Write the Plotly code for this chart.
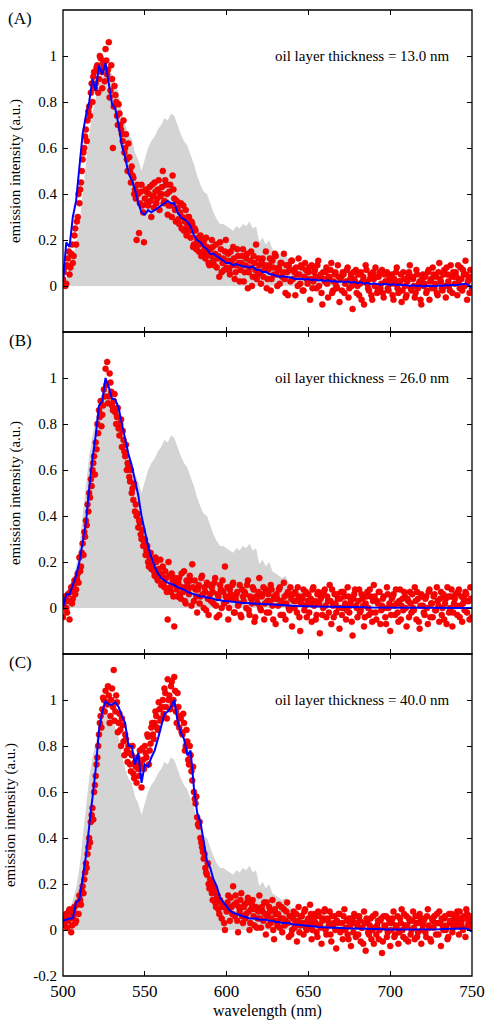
import plotly.graph_objects as go
from plotly.subplots import make_subplots

# reference spectrum (grey area), every 2 nm from 500 to 750
wl_ref = list(range(500, 751, 2))
ref_spectrum = [
    0.0, 0.03, 0.08, 0.13, 0.18, 0.27, 0.4, 0.55, 0.66, 0.75,
    0.82, 0.88, 0.92, 0.95, 0.94, 0.92, 0.88, 0.84, 0.76, 0.7,
    0.66, 0.64, 0.58, 0.55, 0.5, 0.55, 0.6, 0.63, 0.65, 0.68,
    0.7, 0.73, 0.72, 0.75, 0.74, 0.7, 0.66, 0.63, 0.61, 0.57,
    0.53, 0.48, 0.44, 0.41, 0.4, 0.36, 0.32, 0.29, 0.27, 0.27,
    0.26, 0.25, 0.24, 0.26, 0.25, 0.27, 0.26, 0.28, 0.25, 0.26,
    0.19, 0.21, 0.18, 0.2, 0.16, 0.15, 0.14, 0.13, 0.14, 0.11,
    0.09, 0.08, 0.07, 0.07, 0.06, 0.05, 0.05, 0.04, 0.04, 0.03,
    0.03, 0.03, 0.03, 0.025, 0.025, 0.02, 0.02, 0.02, 0.02, 0.02,
    0.02, 0.015, 0.015, 0.015, 0.015, 0.01, 0.01, 0.01, 0.01, 0.01,
    0.01, 0.01, 0.01, 0.01, 0.01, 0.01, 0.01, 0.01, 0.01, 0.01,
    0.01, 0.01, 0.01, 0.01, 0.01, 0.01, 0.01, 0.01, 0.01, 0.01,
    0.005, 0.005, 0.005, 0.005, 0.005, 0.005,
]

# fitted curves (blue), every 2 nm
wl_fit = list(range(500, 751, 2))
fit_A = [
    0.02, 0.19, 0.17, 0.3, 0.37, 0.52, 0.66, 0.74, 0.8, 0.9,
    0.85, 0.96, 0.92, 0.97, 0.87, 0.79, 0.77, 0.7, 0.61, 0.56,
    0.49, 0.46, 0.42, 0.36, 0.32, 0.31, 0.33, 0.32, 0.33, 0.34,
    0.35, 0.36, 0.37, 0.36, 0.36, 0.32, 0.3, 0.29, 0.28, 0.26,
    0.22, 0.2, 0.19, 0.17, 0.16, 0.14, 0.14, 0.13, 0.12, 0.11,
    0.1, 0.1, 0.09, 0.095, 0.09, 0.085, 0.085, 0.08, 0.085, 0.07,
    0.072, 0.06, 0.062, 0.052, 0.05, 0.046, 0.04, 0.042, 0.04, 0.035,
    0.036, 0.03, 0.032, 0.03, 0.028, 0.03, 0.026, 0.028, 0.024, 0.026,
    0.022, 0.025, 0.02, 0.022, 0.018, 0.02, 0.016, 0.02, 0.014, 0.018,
    0.012, 0.016, 0.01, 0.014, 0.008, 0.012, 0.01, 0.006, 0.01, 0.008,
    0.006, 0.008, 0.004, 0.006, 0.002, 0.004, 0.0, 0.003, 0.0, 0.002,
    -0.002, 0.001, 0.0, 0.002, -0.001, 0.003, 0.0, 0.004, 0.002, 0.005,
    0.003, 0.006, 0.008, 0.01, 0.004, -0.01,
]
fit_B = [
    0.0, 0.06, 0.06, 0.1, 0.14, 0.2, 0.28, 0.37, 0.52, 0.65,
    0.75, 0.88, 0.9, 1.0, 0.96, 0.91, 0.905, 0.87, 0.8, 0.73,
    0.67, 0.62, 0.56, 0.49, 0.4, 0.33, 0.27, 0.22, 0.18, 0.15,
    0.13, 0.12, 0.11, 0.105, 0.1, 0.09, 0.085, 0.08, 0.07, 0.065,
    0.06, 0.055, 0.05, 0.05, 0.045, 0.045, 0.04, 0.035, 0.035, 0.03,
    0.03, 0.028, 0.026, 0.025, 0.024, 0.022, 0.022, 0.02, 0.02, 0.019,
    0.018, 0.018, 0.016, 0.016, 0.015, 0.014, 0.014, 0.012, 0.012, 0.011,
    0.01, 0.01, 0.009, 0.009, 0.008, 0.008, 0.007, 0.007, 0.006, 0.006,
    0.006, 0.005, 0.005, 0.005, 0.004, 0.004, 0.004, 0.004, 0.003, 0.003,
    0.003, 0.003, 0.003, 0.002, 0.002, 0.002, 0.002, 0.002, 0.002, 0.002,
    0.002, 0.001, 0.001, 0.001, 0.001, 0.001, 0.001, 0.001, 0.001, 0.001,
    0.001, 0.0, 0.0, 0.0, 0.0, 0.0, 0.0, 0.0, 0.0, 0.0,
    0.0, 0.0, 0.0, 0.0, 0.0, 0.0,
]
fit_C = [
    0.04, 0.045, 0.05, 0.05, 0.12, 0.13, 0.23, 0.32, 0.45, 0.58,
    0.7, 0.87, 0.95, 0.995, 0.98, 0.98, 0.99, 0.97, 0.93, 0.9,
    0.8, 0.8, 0.72, 0.77, 0.64, 0.72, 0.71, 0.75, 0.78, 0.83,
    0.88, 0.94, 0.95, 0.97, 1.0, 0.91, 0.86, 0.83, 0.76, 0.78,
    0.62, 0.51, 0.47, 0.39, 0.3, 0.27, 0.22, 0.19, 0.14, 0.12,
    0.1, 0.085, 0.075, 0.07, 0.065, 0.06, 0.055, 0.05, 0.05, 0.05,
    0.045, 0.045, 0.045, 0.04, 0.04, 0.035, 0.035, 0.03, 0.03, 0.03,
    0.025, 0.024, 0.022, 0.02, 0.019, 0.017, 0.016, 0.015, 0.013, 0.012,
    0.011, 0.01, 0.009, 0.008, 0.008, 0.007, 0.007, 0.007, 0.006, 0.006,
    0.006, 0.006, 0.006, 0.006, 0.006, 0.006, 0.005, 0.004, 0.003, 0.002,
    0.002, 0.001, 0.001, 0.0, 0.0, 0.0, 0.0, 0.0, 0.0, 0.001,
    0.001, 0.002, 0.002, 0.003, 0.003, 0.003, 0.004, 0.004, 0.005, 0.005,
    0.006, 0.007, 0.007, 0.007, 0.003, -0.007,
]

# measured points (red), at whole nm 500..750
wl_data = list(range(500, 751))
data_A = [
    0.03, 0.08, 0.01, 0.12, 0.05, 0.14, 0.1, 0.22, 0.18, 0.3,
    0.36, 0.45, 0.55, 0.6, 0.68, 0.72, 0.78, 0.84, 0.8, 0.93,
    0.88, 0.96, 0.9, 0.99, 0.86, 0.95, 1.03, 0.92, 1.06, 0.85,
    0.9, 0.78, 0.83, 0.74, 0.79, 0.7, 0.66, 0.72, 0.6, 0.55,
    0.62, 0.5, 0.52, 0.47, 0.42, 0.2, 0.4, 0.36, 0.44, 0.32,
    0.38, 0.41, 0.35, 0.43, 0.3, 0.39, 0.45, 0.36, 0.42, 0.33,
    0.4, 0.5, 0.37, 0.44, 0.31, 0.41, 0.35, 0.48, 0.38, 0.28,
    0.34, 0.27, 0.36, 0.3, 0.24, 0.33, 0.26, 0.3, 0.21, 0.27,
    0.18, 0.24, 0.2, 0.15, 0.22, 0.14, 0.19, 0.12, 0.17, 0.1,
    0.16, 0.2, 0.11, 0.14, 0.08, 0.13, 0.19, 0.06, 0.12, 0.15,
    0.08, 0.14, 0.05, 0.11, 0.17, 0.03, 0.09, 0.13, 0.02, 0.1,
    0.16, 0.06, 0.12, -0.01, 0.08, 0.15, 0.04, 0.1, 0.18, 0.05,
    0.09, 0.01, 0.12, 0.07, 0.15, 0.03, 0.09, -0.02, 0.11, 0.05,
    0.13, 0.0, 0.08, 0.1, 0.04, 0.14, -0.03, 0.06, 0.09, 0.02,
    0.11, 0.07, -0.04, 0.05, 0.12, 0.01, 0.08, -0.02, 0.1, 0.03,
    0.06, -0.06, 0.09, 0.02, 0.07, -0.01, 0.11, 0.04, -0.03, 0.06,
    0.02, 0.08, -0.05, 0.03, 0.1, -0.02, 0.05, 0.0, 0.09, -0.07,
    0.04, 0.06, -0.03, 0.02, 0.08, -0.01, 0.05, -0.1, 0.03, 0.07,
    0.0, -0.04, 0.06, 0.02, -0.08, 0.09, 0.01, -0.02, 0.05, -0.06,
    0.03, 0.08, -0.03, 0.04, -0.01, 0.07, -0.05, 0.02, 0.06, -0.02,
    0.03, 0.05, -0.06, 0.01, 0.08, -0.03, 0.02, -0.07, 0.06, 0.0,
    -0.04, 0.04, 0.09, -0.02, 0.03, -0.05, 0.07, -0.01, 0.02, -0.08,
    0.05, 0.01, -0.03, 0.06, -0.06, 0.03, 0.08, -0.01, 0.04, -0.04,
    0.1, 0.02, -0.02, 0.07, -0.05, 0.05, 0.0, 0.09, -0.03, 0.04,
    0.06, -0.04, 0.02, 0.08, -0.02, 0.05, 0.11, -0.06, 0.03, 0.07,
    -0.01,
]
data_B = [
    -0.04, 0.03, 0.0, 0.06, -0.05, 0.09, 0.04, 0.12, 0.08, 0.15,
    0.22, 0.18, 0.28, 0.33, 0.38, 0.45, 0.5, 0.56, 0.6, 0.66,
    0.72, 0.8, 0.86, 0.9, 0.84, 0.95, 1.04, 1.07, 0.92, 0.98,
    0.88, 0.9, 0.85, 0.83, 0.78, 0.8, 0.7, 0.73, 0.66, 0.6,
    0.62, 0.55, 0.5, 0.47, 0.42, 0.4, 0.35, 0.37, 0.3, 0.27,
    0.3, 0.25, 0.2, 0.22, 0.17, 0.19, 0.14, 0.2, 0.12, 0.15,
    0.1, 0.18, 0.09, 0.13, -0.05, 0.14, 0.07, 0.12, -0.08, 0.1,
    0.05, 0.13, 0.04, 0.09, 0.16, 0.02, 0.1, 0.06, 0.12, 0.19,
    0.03, 0.08, -0.02, 0.1, 0.05, 0.14, 0.0, 0.07, 0.11, -0.03,
    0.06, 0.09, 0.02, 0.13, -0.04, 0.05, 0.1, 0.0, 0.07, 0.18,
    0.03, -0.05, 0.08, 0.04, 0.11, -0.02, 0.06, 0.01, 0.1, -0.04,
    0.05, 0.07, 0.0, 0.12, -0.03, 0.04, 0.09, -0.06, 0.05, 0.02,
    0.13, -0.01, 0.06, -0.05, 0.08, 0.03, -0.02, 0.1, 0.01, 0.05,
    -0.07, 0.04, 0.08, -0.03, 0.02, 0.11, -0.05, 0.06, 0.0, 0.09,
    -0.08, 0.03, 0.07, -0.02, 0.05, -0.1, 0.04, 0.08, 0.01, -0.04,
    0.06, 0.02, -0.06, 0.09, 0.03, -0.03, 0.07, -0.11, 0.05, 0.0,
    0.08, -0.04, 0.03, 0.1, -0.07, 0.01, 0.06, -0.02, 0.04, -0.09,
    0.07, 0.0, 0.05, -0.05, 0.09, -0.02, 0.03, -0.12, 0.06, 0.01,
    -0.04, 0.08, -0.01, 0.04, -0.08, 0.02, 0.07, -0.03, 0.05, -0.06,
    0.1, -0.02, 0.03, 0.07, -0.07, 0.01, 0.05, -0.04, 0.09, 0.0,
    -0.1, 0.04, 0.06, -0.03, 0.02, -0.06, 0.08, 0.01, -0.01, 0.05,
    -0.08, 0.03, 0.07, -0.02, 0.0, 0.09, -0.05, 0.04, -0.09, 0.06,
    0.01, -0.03, 0.05, -0.07, 0.08, 0.02, -0.04, 0.06, -0.01, 0.03,
    -0.06, 0.07, 0.0, -0.05, 0.04, 0.09, -0.02, 0.05, -0.08, 0.02,
    0.06, -0.03, 0.08, 0.01, -0.06, 0.04, 0.07, -0.02, 0.03, 0.09,
    -0.04,
]
data_C = [
    0.05, 0.02, 0.07, 0.04, 0.09, -0.01, 0.06, 0.1, 0.04, 0.12,
    0.15, 0.11, 0.19, 0.22, 0.29, 0.33, 0.4, 0.47, 0.53, 0.6,
    0.67, 0.75, 0.85, 0.93, 0.96, 1.0, 1.04, 0.98, 1.02, 0.93,
    1.05, 1.13, 0.95, 0.99, 0.9, 0.87, 0.92, 0.82, 0.85, 0.78,
    0.8, 0.72, 0.76, 0.68, 0.73, 0.64, 0.7, 0.78, 0.62, 0.74,
    0.8, 0.75, 0.84, 0.78, 0.88, 0.85, 0.9, 0.93, 0.87, 0.96,
    0.92, 1.0, 1.05, 0.97, 1.09, 1.02, 1.06, 0.98, 1.1, 0.95,
    1.03, 0.88, 0.92, 0.85, 0.9, 0.8, 0.82, 0.72, 0.76, 0.65,
    0.6, 0.55, 0.49, 0.45, 0.4, 0.36, 0.31, 0.27, 0.24, 0.2,
    0.22, 0.16, 0.19, 0.12, 0.14, 0.09, 0.13, 0.05, 0.1, 0.0,
    0.08, 0.15, 0.04, 0.1, 0.19, 0.06, 0.12, -0.01, 0.08, 0.16,
    0.03, 0.11, 0.07, 0.14, 0.0, 0.09, 0.13, 0.02, 0.1, 0.05,
    0.15, 0.01, 0.08, 0.12, -0.02, 0.06, 0.1, 0.03, 0.13, -0.04,
    0.07, 0.02, 0.11, 0.05, -0.01, 0.09, 0.04, 0.12, -0.03, 0.06,
    0.0, 0.08, 0.03, -0.05, 0.1, 0.02, 0.06, -0.02, 0.09, 0.0,
    0.05, 0.11, -0.04, 0.03, 0.07, -0.01, 0.08, 0.02, -0.06, 0.05,
    0.09, -0.02, 0.04, 0.08, -0.05, 0.02, 0.06, -0.08, 0.03, 0.07,
    0.0, -0.04, 0.09, 0.01, -0.02, 0.05, -0.07, 0.04, 0.07, -0.03,
    0.02, 0.06, -0.05, 0.01, 0.08, -0.09, 0.03, -0.02, 0.05, 0.0,
    -0.06, 0.07, 0.02, -0.04, 0.04, -0.1, 0.06, 0.01, -0.03, 0.05,
    -0.07, 0.03, 0.08, -0.02, 0.01, -0.06, 0.05, 0.09, -0.03, 0.02,
    0.06, -0.05, 0.04, 0.0, 0.08, -0.04, 0.03, -0.01, 0.07, -0.06,
    0.02, 0.05, -0.03, 0.09, 0.01, -0.05, 0.04, 0.06, -0.02, 0.03,
    0.08, -0.07, 0.02, 0.05, 0.0, -0.04, 0.07, 0.03, -0.01, 0.06,
    0.04, 0.08, -0.02, 0.05, 0.01, 0.06, -0.03, 0.07, 0.03, 0.05,
    0.02,
]

# measured points (red), at half nm 500.5..749.5
wl_half = [500.5 + k for k in range(250)]
half_A = [
    0.06, 0.0, 0.09, 0.15, 0.08, 0.18, 0.13, 0.25, 0.28, 0.4,
    0.42, 0.5, 0.58, 0.65, 0.63, 0.76, 0.74, 0.88, 0.91, 0.86,
    0.95, 0.84, 1.0, 0.93, 0.97, 0.89, 0.98, 0.94, 0.82, 0.96,
    0.6, 0.87, 0.8, 0.7, 0.75, 0.68, 0.63, 0.58, 0.66, 0.5,
    0.56, 0.45, 0.48, 0.4, 0.38, 0.44, 0.23, 0.41, 0.35, 0.19,
    0.42, 0.36, 0.4, 0.37, 0.44, 0.34, 0.41, 0.38, 0.46, 0.39,
    0.43, 0.36, 0.46, 0.4, 0.35, 0.44, 0.3, 0.42, 0.33, 0.37,
    0.29, 0.32, 0.25, 0.35, 0.28, 0.22, 0.3, 0.24, 0.28, 0.17,
    0.25, 0.16, 0.21, 0.18, 0.13, 0.2, 0.16, 0.21, 0.14, 0.09,
    0.13, 0.17, 0.09, 0.18, 0.12, 0.04, 0.16, 0.1, 0.07, 0.2,
    0.11, 0.07, 0.15, 0.09, 0.12, 0.06, 0.16, 0.1, 0.07, 0.13,
    0.02, 0.09, 0.14, 0.06, 0.11, 0.0, 0.13, 0.07, 0.03, 0.12,
    0.06, 0.1, 0.04, 0.09, -0.01, 0.07, 0.12, 0.03, 0.08, 0.14,
    0.05, 0.07, 0.01, 0.1, 0.06, 0.03, 0.09, -0.04, 0.07, 0.11,
    0.03, 0.06, 0.08, 0.0, 0.05, 0.09, -0.02, 0.04, 0.07, 0.01,
    0.08, 0.03, -0.01, 0.06, 0.04, 0.09, 0.0, 0.05, -0.08, 0.03,
    0.06, 0.01, 0.04, 0.07, -0.03, 0.02, 0.06, -0.01, 0.04, 0.03,
    -0.02, 0.05, 0.01, 0.07, -0.05, 0.03, 0.0, 0.06, 0.02, -0.03,
    0.05, 0.01, -0.06, 0.04, 0.02, 0.07, -0.01, 0.03, -0.04, 0.06,
    0.0, 0.04, -0.02, 0.06, 0.01, -0.03, 0.05, 0.02, -0.01, 0.04,
    0.01, -0.04, 0.03, 0.06, -0.01, 0.02, 0.05, -0.02, 0.03, -0.05,
    0.02, 0.06, -0.01, 0.04, 0.0, -0.03, 0.05, 0.01, -0.06, 0.03,
    0.0, 0.04, -0.02, 0.07, 0.02, -0.01, 0.05, 0.01, -0.03, 0.06,
    0.03, -0.01, 0.05, 0.0, 0.08, 0.02, -0.02, 0.04, 0.06, 0.01,
    0.04, 0.09, -0.01, 0.03, 0.07, 0.0, 0.05, 0.02, -0.03, 0.04,
]
half_B = [
    0.01, 0.05, -0.02, 0.03, 0.07, 0.02, 0.1, 0.06, 0.13, 0.11,
    0.16, 0.24, 0.23, 0.31, 0.36, 0.42, 0.48, 0.53, 0.63, 0.58,
    0.69, 0.76, 0.83, 0.79, 0.88, 0.92, 0.97, 0.89, 1.02, 0.94,
    0.86, 0.93, 0.8, 0.87, 0.75, 0.82, 0.77, 0.68, 0.71, 0.63,
    0.57, 0.6, 0.52, 0.54, 0.45, 0.41, 0.38, 0.32, 0.34, 0.29,
    0.23, 0.27, 0.18, 0.24, 0.2, 0.16, 0.22, 0.13, 0.17, 0.21,
    0.14, 0.11, 0.16, 0.07, 0.2, 0.09, 0.15, 0.05, 0.13, 0.08,
    0.11, 0.06, 0.15, 0.07, 0.03, 0.12, 0.08, 0.14, 0.01, 0.09,
    0.12, 0.05, 0.08, 0.02, 0.13, 0.06, 0.09, -0.01, 0.04, 0.1,
    0.03, 0.07, 0.11, 0.01, 0.06, -0.03, 0.08, 0.12, 0.02, 0.05,
    0.09, 0.0, 0.06, 0.1, -0.02, 0.04, 0.07, 0.02, -0.03, 0.08,
    0.03, 0.06, 0.1, -0.01, 0.05, 0.02, 0.08, -0.04, 0.04, 0.07,
    0.0, 0.05, 0.09, 0.02, -0.02, 0.06, 0.03, 0.08, -0.05, 0.04,
    0.06, 0.01, 0.09, 0.03, -0.03, 0.05, 0.02, 0.07, -0.01, 0.04,
    0.06, 0.0, 0.03, 0.09, -0.04, 0.02, 0.05, -0.01, 0.07, 0.03,
    -0.02, 0.04, 0.08, 0.01, -0.05, 0.06, 0.02, 0.04, -0.03, 0.07,
    0.01, 0.05, -0.02, 0.03, 0.08, -0.04, 0.02, 0.06, 0.0, 0.04,
    -0.03, 0.07, 0.02, -0.01, 0.05, 0.01, -0.06, 0.04, 0.08, 0.0,
    0.03, -0.02, 0.06, 0.01, -0.04, 0.05, 0.0, 0.08, -0.02, 0.03,
    0.05, -0.05, 0.02, 0.07, -0.01, 0.04, 0.0, -0.07, 0.06, 0.02,
    -0.03, 0.05, 0.01, 0.08, -0.02, 0.03, -0.05, 0.04, 0.07, 0.0,
    0.04, -0.04, 0.02, 0.06, -0.01, 0.03, 0.07, -0.06, 0.01, 0.05,
    -0.02, 0.04, 0.0, 0.07, -0.04, 0.02, 0.05, -0.01, 0.09, 0.01,
    0.04, -0.03, 0.06, 0.02, -0.07, 0.05, 0.0, 0.08, -0.02, 0.04,
    0.01, 0.07, -0.04, 0.05, 0.02, -0.01, 0.06, 0.03, -0.05, 0.04,
]
half_C = [
    0.03, 0.06, 0.01, 0.08, 0.05, 0.02, 0.08, 0.03, 0.11, 0.07,
    0.13, 0.17, 0.16, 0.25, 0.27, 0.36, 0.38, 0.5, 0.48, 0.63,
    0.72, 0.8, 0.9, 0.88, 1.01, 0.95, 0.99, 1.06, 0.9, 1.0,
    0.97, 0.91, 1.02, 0.86, 0.94, 0.8, 0.89, 0.76, 0.83, 0.73,
    0.77, 0.69, 0.8, 0.66, 0.71, 0.75, 0.67, 0.72, 0.79, 0.7,
    0.77, 0.85, 0.72, 0.81, 0.9, 0.83, 0.95, 0.88, 0.99, 0.91,
    0.97, 0.94, 1.03, 0.92, 1.0, 0.96, 1.08, 1.0, 1.04, 0.9,
    0.97, 0.93, 0.86, 0.94, 0.78, 0.87, 0.74, 0.8, 0.69, 0.71,
    0.57, 0.58, 0.46, 0.47, 0.38, 0.34, 0.33, 0.25, 0.29, 0.18,
    0.2, 0.13, 0.17, 0.1, 0.15, 0.07, 0.12, 0.11, 0.03, 0.1,
    0.12, 0.09, 0.14, 0.07, 0.11, 0.15, 0.04, 0.1, 0.13, 0.06,
    0.1, 0.05, 0.12, 0.08, 0.03, 0.11, 0.06, 0.09, 0.01, 0.08,
    0.05, 0.1, 0.04, 0.07, 0.12, 0.02, 0.08, 0.05, 0.0, 0.09,
    0.04, 0.07, 0.01, 0.1, 0.05, 0.02, 0.08, 0.03, 0.06, -0.02,
    0.05, 0.01, 0.07, 0.04, -0.01, 0.06, 0.03, 0.08, 0.01, 0.04,
    0.02, 0.07, 0.0, 0.05, 0.03, -0.03, 0.06, 0.01, 0.04, 0.08,
    0.0, 0.05, 0.02, -0.02, 0.06, 0.03, 0.0, 0.04, 0.07, -0.01,
    0.03, 0.06, 0.0, 0.04, -0.04, 0.02, 0.05, -0.01, 0.03, 0.06,
    -0.02, 0.04, 0.01, -0.06, 0.03, 0.05, -0.01, 0.02, -0.04, 0.06,
    0.01, -0.02, 0.04, 0.0, 0.05, -0.05, 0.02, 0.06, -0.01, 0.03,
    0.0, 0.05, -0.03, 0.02, 0.06, -0.01, 0.03, 0.0, 0.07, -0.04,
    0.02, 0.05, -0.02, 0.04, 0.01, 0.06, -0.03, 0.03, 0.05, 0.0,
    0.04, -0.01, 0.06, 0.02, -0.04, 0.05, 0.01, 0.03, 0.07, -0.02,
    0.03, 0.05, 0.0, 0.06, 0.02, -0.03, 0.04, 0.07, 0.01, 0.03,
    0.06, 0.02, 0.08, 0.03, 0.0, 0.05, 0.09, 0.02, 0.06, 0.01,
]

panel_labels = ["(A)", "(B)", "(C)"]
thickness = ["13.0", "26.0", "40.0"]
y_ticks = [0, 0.2, 0.4, 0.6, 0.8, 1]
y_ticks_C = [-0.2, 0, 0.2, 0.4, 0.6, 0.8, 1]
x_ticks = [500, 550, 600, 650, 700, 750]

FONT = "Liberation Serif"
RED = "#ff0000"

fig = make_subplots(rows=3, cols=1, shared_xaxes=True, vertical_spacing=0)

panels = [(data_A, half_A, fit_A), (data_B, half_B, fit_B), (data_C, half_C, fit_C)]
for i, (pts, pts_half, fit) in enumerate(panels):
    row = i + 1
    fig.add_trace(go.Scatter(x=wl_ref, y=ref_spectrum, mode="lines", fill="tozeroy",
                             line=dict(width=0, color="#d4d4d4"), fillcolor="#d4d4d4"),
                  row=row, col=1)
    fig.add_trace(go.Scatter(x=wl_data + wl_half, y=pts + pts_half, mode="markers",
                             marker=dict(color=RED, size=6, line=dict(width=0.5, color="#d00000"))),
                  row=row, col=1)
    fig.add_trace(go.Scatter(x=wl_fit, y=fit, mode="lines", line=dict(color="#0000ff", width=2)),
                  row=row, col=1)

    sfx = "" if row == 1 else str(row)
    # frame of the panel
    fig.add_shape(type="rect", xref="x" + sfx + " domain", yref="y" + sfx + " domain",
                  x0=0, x1=1, y0=0, y1=1, line=dict(color="black", width=1.3), layer="above")
    fig.add_annotation(text=panel_labels[i], xref="x" + sfx + " domain", yref="y" + sfx + " domain",
                       x=-0.105, y=0.975, xanchor="center", yanchor="middle", showarrow=False,
                       font=dict(family=FONT, size=17, color="black"))
    fig.add_annotation(text="oil layer thickness = " + thickness[i] + " nm", xref="x" + sfx, yref="y" + sfx,
                       x=683, y=1.0, xanchor="center", yanchor="middle", showarrow=False,
                       font=dict(family=FONT, size=15, color="black"))

fig.update_xaxes(range=[500, 750], tickvals=x_ticks, ticks="inside", ticklen=5, tickwidth=1.2,
                 tickcolor="black", showline=False, mirror="ticks", automargin=False,
                 ticklabeloverflow="allow", ticklabelstandoff=3,
                 showgrid=False, zeroline=False, tickfont=dict(family=FONT, size=17, color="black"))
fig.update_xaxes(title_text="wavelength (nm)", title_font=dict(family=FONT, size=16, color="black"),
                 title_standoff=4, row=3, col=1)

fig.update_yaxes(range=[-0.2, 1.2], tickvals=y_ticks, ticktext=[str(v) for v in y_ticks],
                 ticks="inside", ticklen=5, tickwidth=1.2, tickcolor="black", showline=False,
                 mirror="ticks", showgrid=False, zeroline=False, automargin=False,
                 ticklabelstandoff=5, tickfont=dict(family=FONT, size=15, color="black"),
                 title_text="emission intensity (a.u.)", title_standoff=14,
                 title_font=dict(family=FONT, size=15, color="black"))
fig.update_yaxes(tickvals=y_ticks_C, ticktext=[str(v) for v in y_ticks_C], row=3, col=1)

fig.update_layout(width=485, height=1021, margin=dict(l=63, r=13, t=10, b=45),
                  plot_bgcolor="white", paper_bgcolor="white", showlegend=False,
                  font=dict(family=FONT, color="black"))

# drop the default page margin so the figure sits flush in the window
fig.write_html("out.html", config={"displayModeBar": False},
               post_script="document.body.style.margin='0';document.body.style.overflow='hidden';")
